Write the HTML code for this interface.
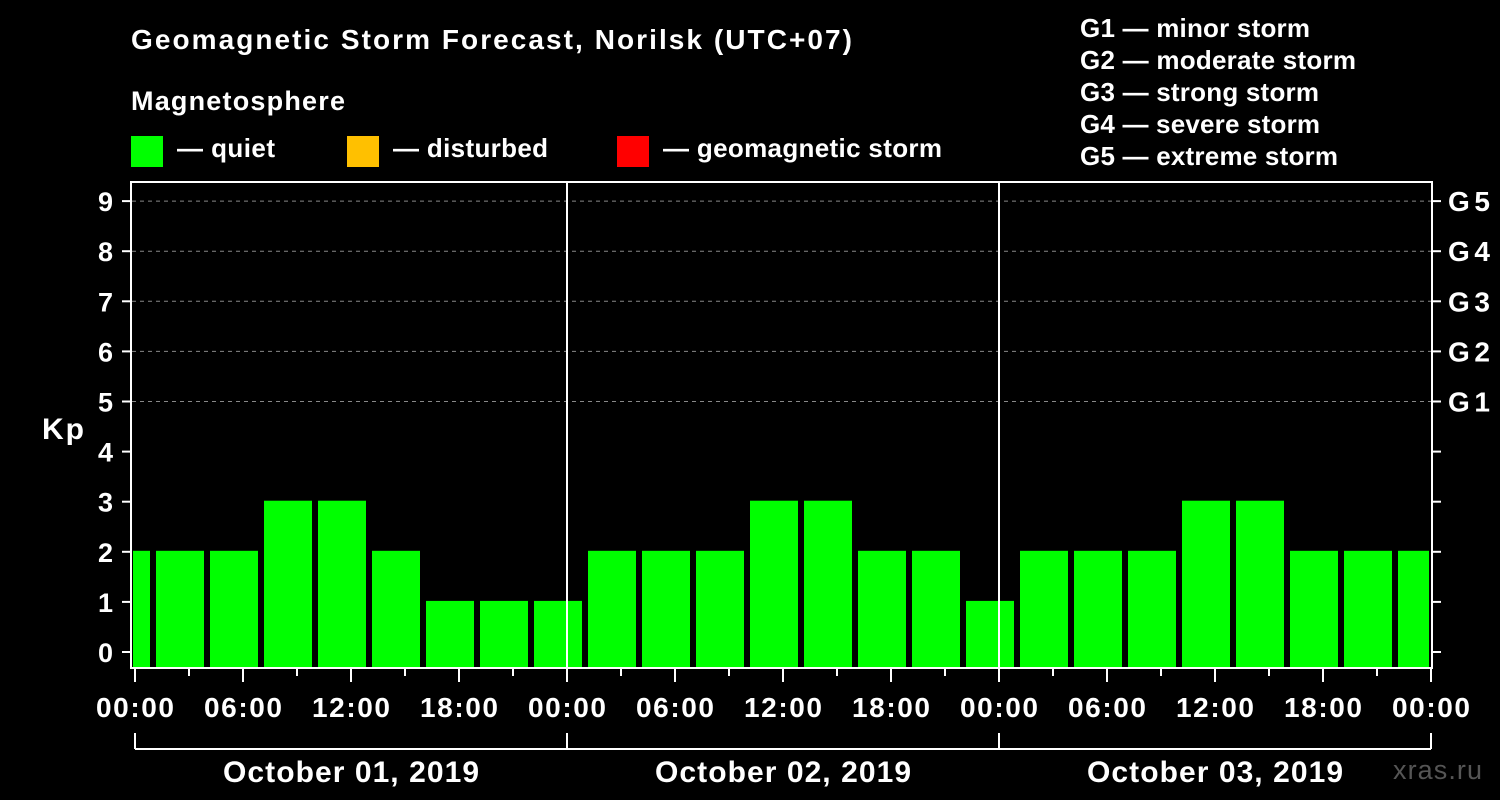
<!DOCTYPE html>
<html><head><meta charset="utf-8"><style>
body{margin:0;background:#000;width:1500px;height:800px;overflow:hidden}
svg{display:block;font-family:"Liberation Sans",sans-serif;font-weight:bold}
</style></head><body>
<svg id="chart" width="1500" height="800">
<text x="131" y="49" fill="#fff" font-size="28" textLength="721" lengthAdjust="spacing">Geomagnetic Storm Forecast, Norilsk (UTC+07)</text>
<text x="131" y="110" fill="#fff" font-size="27" textLength="214" lengthAdjust="spacing">Magnetosphere</text>
<g><rect x="131" y="136" width="32" height="31" fill="#00ff00"/><text x="177" y="157" fill="#fff" font-size="26" textLength="98" lengthAdjust="spacing">— quiet</text></g>
<g><rect x="347" y="136" width="32" height="31" fill="#ffc000"/><text x="393" y="157" fill="#fff" font-size="26" textLength="155" lengthAdjust="spacing">— disturbed</text></g>
<g><rect x="617" y="136" width="32" height="31" fill="#ff0000"/><text x="663" y="157" fill="#fff" font-size="26" textLength="279" lengthAdjust="spacing">— geomagnetic storm</text></g>
<g fill="#fff" font-size="26">
<text x="1080" y="37" textLength="230" lengthAdjust="spacing">G1 — minor storm</text><text x="1080" y="69" textLength="276" lengthAdjust="spacing">G2 — moderate storm</text><text x="1080" y="101" textLength="239" lengthAdjust="spacing">G3 — strong storm</text><text x="1080" y="133" textLength="240" lengthAdjust="spacing">G4 — severe storm</text><text x="1080" y="165" textLength="258" lengthAdjust="spacing">G5 — extreme storm</text>
</g>
<text x="42" y="439" fill="#fff" font-size="30" textLength="42" lengthAdjust="spacing">Kp</text>
<text x="1393" y="779" fill="#555" font-size="27" font-weight="normal" textLength="89" lengthAdjust="spacing">xras.ru</text>
<defs><clipPath id="pc"><rect x="133" y="183" width="1296" height="484"/></clipPath></defs>
<g id="grid"></g><g id="bars" clip-path="url(#pc)"></g><g id="axes"></g>
</svg>
<script>
const kpValues=[2,2,2,3,3,2,1,1,1,2,2,2,3,3,2,2,1,2,2,2,3,3,2,2,2];
const barStartHour=-2;
const yTicks=[0,1,2,3,4,5,6,7,8,9];
const gLabels=["G1","G2","G3","G4","G5"];
const xTickLabels=["00:00","06:00","12:00","18:00","00:00","06:00","12:00","18:00","00:00","06:00","12:00","18:00","00:00"];
const dayLabels=["October 01, 2019","October 02, 2019","October 03, 2019"];
const X=h=>135+18*h, Y=k=>652-50.1*k;
const NS="http://www.w3.org/2000/svg";
function mk(p,t,a){const e=document.createElementNS(NS,t);for(const k in a)e.setAttribute(k,a[k]);document.getElementById(p).appendChild(e);return e;}
yTicks.forEach(k=>{
 if(k>=5){const g=mk('grid','line',{x1:132,x2:1432,y1:Y(k),y2:Y(k),stroke:'#888','stroke-dasharray':'4,4'});
 
 }
 mk('axes','line',{x1:122,x2:131,y1:Y(k),y2:Y(k),stroke:'#fff','stroke-width':2});
 mk('axes','line',{x1:1432,x2:1441,y1:Y(k),y2:Y(k),stroke:'#fff','stroke-width':2});
 const t=mk('axes','text',{x:113,y:Y(k)+10,fill:'#fff','font-size':27,'text-anchor':'end'});t.textContent=k;
 
 
});
gLabels.forEach((g,i)=>{const t=mk('axes','text',{x:1448,y:Y(i+5)+10,fill:'#fff','font-size':28,textLength:42,lengthAdjust:'spacing'});t.textContent=g;
 
 });
kpValues.forEach((v,i)=>{const h=barStartHour+3*i;
 const r=mk('bars','rect',{x:X(h)+3,y:Y(v)-1,width:48,height:668-Y(v)+1,fill:'#00ff00'});
 
 });
mk('axes','rect',{x:131,y:182,width:1301,height:486,fill:'none',stroke:'#fff','stroke-width':2});
[1,2].forEach(d=>{mk('axes','line',{x1:X(24*d),x2:X(24*d),y1:182,y2:668,stroke:'#fff','stroke-width':2});});
for(let h=0;h<=72;h+=3){mk('axes','line',{x1:X(h),x2:X(h),y1:669,y2:h%6?676:682,stroke:'#fff','stroke-width':2});}
xTickLabels.forEach((l,i)=>{const t=mk('axes','text',{x:X(6*i)-39,y:717,fill:'#fff','font-size':28,textLength:78,lengthAdjust:'spacing'});t.textContent=l;
 
 });
mk('axes','line',{x1:X(0),x2:X(72),y1:749,y2:749,stroke:'#fff','stroke-width':2});
for(let d=0;d<=3;d++)mk('axes','line',{x1:X(24*d),x2:X(24*d),y1:733,y2:749,stroke:'#fff','stroke-width':2});
dayLabels.forEach((l,i)=>{const t=mk('axes','text',{x:X(24*i+12)-128,y:782,fill:'#fff','font-size':30,textLength:256,lengthAdjust:'spacing'});t.textContent=l;
 
 });
</script>
</body></html>
